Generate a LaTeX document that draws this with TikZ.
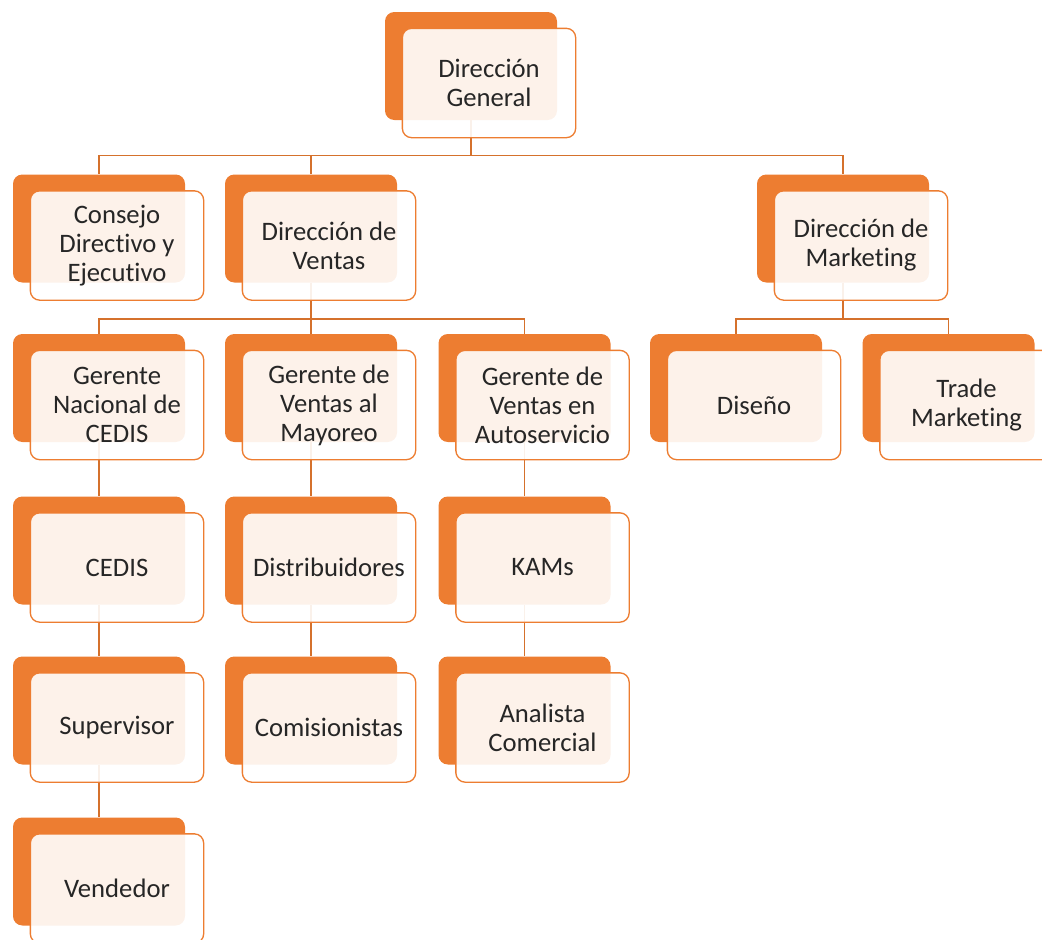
\documentclass[tikz,border=0pt]{standalone}
\usepackage{fontspec}
\setmainfont{Carlito}[Ligatures=NoCommon]
\usetikzlibrary{backgrounds}
\definecolor{orgorange}{HTML}{ED7D31}
\definecolor{orgtext}{HTML}{262626}
\tikzset{
	backbox/.style={rectangle, rounded corners=7pt, fill=orgorange, minimum width=129pt, minimum height=81pt, inner sep=0pt},
	frontbox/.style={rectangle, rounded corners=7pt, draw=orgorange, line width=1pt, fill=white, fill opacity=0.9, text opacity=1, text=orgtext, minimum width=130pt, minimum height=82pt, inner sep=0pt, align=center, font=\fontsize{20}{21.75}\selectfont},
	link/.style={draw=orgorange!90!black, line width=1.1pt}
}
\begin{document}
\begin{tikzpicture}[x=0.75pt, y=-0.75pt]
		\useasboundingbox (0,0) rectangle (1042,939);
		\clip (0,0) rectangle (1042,939);
		
		% boxes: back card and front card with the text
		\foreach \name/\x/\y/\txt in {dg/471/66/Dirección\\General,
			cde/99/228.5/Consejo\\Directivo y\\Ejecutivo, dv/311/228.5/Dirección de\\Ventas, dm/843/228.5/Dirección de\\Marketing,
			gn/99/388/Gerente\\Nacional de\\CEDIS, gm/311/388/Gerente de\\Ventas al\\Mayoreo, ga/524.5/388/Gerente de\\Ventas en\\Autoservicio,
			dis/736/388/Diseño, tm/948.5/388/Trade\\Marketing,
			ced/99/550.5/CEDIS, dist/311/550.5/Distribuidores, kam/524.5/550.5/KAMs,
			sup/99/710.5/Supervisor, com/311/710.5/Comisionistas, ana/524.5/710.5/Analista\\Comercial,
			ven/99/871.5/Vendedor}
		{
			\node[backbox] (\name) at (\x,\y) {};
			\node[frontbox] (\name-f) at (\x+18,\y+17) {\txt};
		}
		
		% connectors
		\begin{scope}[on background layer]
			\draw[link] (dg.south) -- ++(0,35) -| (cde.north);
			\draw[link] (dg.south) -- ++(0,35) -| (dv.north);
			\draw[link] (dg.south) -- ++(0,35) -| (dm.north);
			\draw[link] (dv.south) -- ++(0,36) -| (gn.north);
			\draw[link] (dv.south) -- ++(0,36) -| (gm.north);
			\draw[link] (dv.south) -- ++(0,36) -| (ga.north);
			\draw[link] (dm.south) -- ++(0,36) -| (dis.north);
			\draw[link] (dm.south) -- ++(0,36) -| (tm.north);
			\draw[link] (gn.south) -- (ced.north);
			\draw[link] (ced.south) -- (sup.north);
			\draw[link] (sup.south) -- (ven.north);
			\draw[link] (gm.south) -- (dist.north);
			\draw[link] (dist.south) -- (com.north);
			\draw[link] (ga.south) -- (kam.north);
			\draw[link] (kam.south) -- (ana.north);
		\end{scope}
	\end{tikzpicture}
\end{document}
